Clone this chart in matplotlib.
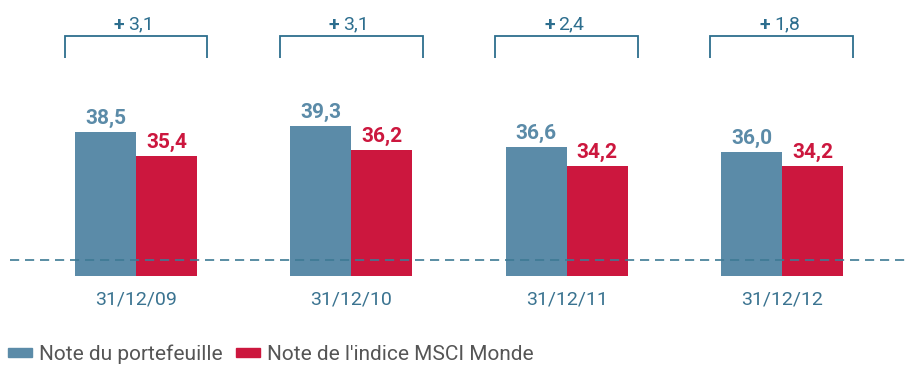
import matplotlib
matplotlib.use("Agg")
import matplotlib.pyplot as plt
from matplotlib.patches import Patch
import numpy as np

dates = ["31/12/09", "31/12/10", "31/12/11", "31/12/12"]
portefeuille = [38.5, 39.3, 36.6, 36.0]
msci_monde = [35.4, 36.2, 34.2, 34.2]
series_names = ["Note du portefeuille", "Note de l'indice MSCI Monde"]

BLUE = "#5b8ba8"
RED = "#cc173e"
TEAL = "#2d6e8e"
GREY = "#555555"
FONT = ["Roboto", "DejaVu Sans"]

plt.rcParams["font.family"] = FONT

fig = plt.figure(figsize=(9.05, 3.65), dpi=100)
ax = fig.add_axes([0, 0.2447, 1, 0.7553])

base = 20.0
x = np.arange(len(dates))
w = 0.283

ax.bar(x - w / 2, np.array(portefeuille) - base, bottom=base, width=w,
       color=BLUE, align="center", zorder=2)
ax.bar(x + w / 2, np.array(msci_monde) - base, bottom=base, width=w,
       color=RED, align="center", zorder=2)


def fr(v):
    return f"{v:.1f}".replace(".", ",")


# value labels above each bar
for xi, p, m in zip(x, portefeuille, msci_monde):
    ax.annotate(fr(p), (xi - w / 2, p), xytext=(0, 5.8),
                textcoords="offset points", ha="center", va="baseline",
                color=BLUE, fontsize=15, fontweight="bold")
    ax.annotate(fr(m), (xi + w / 2, m), xytext=(0, 5.8),
                textcoords="offset points", ha="center", va="baseline",
                color=RED, fontsize=15, fontweight="bold")

# gap brackets above each group
half = 0.332
y_top, y_arm = 50.9, 48.1
for xi, p, m in zip(x, portefeuille, msci_monde):
    ax.plot([xi - half, xi - half, xi + half, xi + half],
            [y_arm, y_top, y_top, y_arm], color=TEAL, lw=1.3,
            solid_capstyle="butt", solid_joinstyle="miter", zorder=3)
    diff = p - m
    ax.annotate("+", (xi, y_top), xytext=(-8.5, 4.6), textcoords="offset points",
                ha="right", va="baseline", color=TEAL, fontsize=14,
                fontweight="bold")
    ax.annotate(fr(diff), (xi, y_top), xytext=(-5.8, 4.6),
                textcoords="offset points", ha="left", va="baseline",
                color=TEAL, fontsize=14)

# dashed reference line
ax.plot([-0.585, 3.6], [22, 22], color="#3d7a94", lw=1.2,
        dashes=(5.5, 3.5), zorder=3)

ax.set_xlim(-0.6316, 3.5713)
ax.set_ylim(base, 55.55)
ax.set_xticks(x)
ax.set_xticklabels(dates, color="#3a7390", fontsize=14)
ax.tick_params(axis="x", length=0, pad=10.5)
ax.set_yticks([])
for s in ax.spines.values():
    s.set_visible(False)
ax.patch.set_alpha(0)

handles = [Patch(color=BLUE), Patch(color=RED)]
fig.legend(handles, series_names, loc="center left",
           bbox_to_anchor=(8 / 905, 10.5 / 365), ncol=2, frameon=False,
           fontsize=15, handlelength=1.15, handleheight=0.28,
           handletextpad=0.33, columnspacing=0.67, labelcolor=GREY,
           borderpad=0, borderaxespad=0)

fig.savefig("out.png", dpi=100)
